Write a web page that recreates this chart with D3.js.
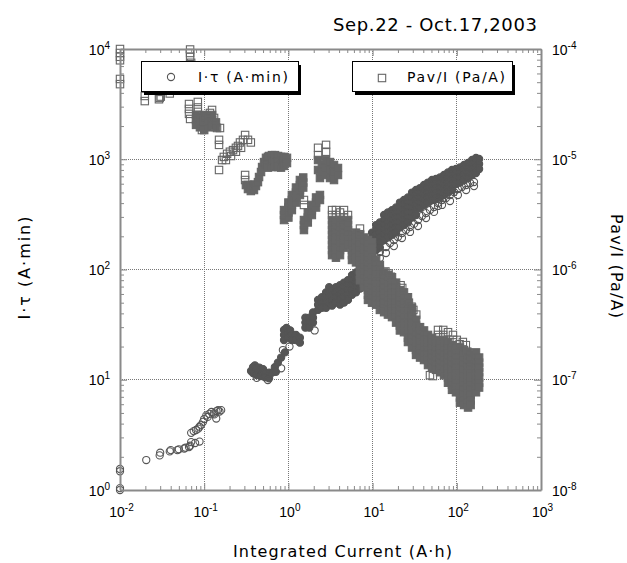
<!DOCTYPE html>
<html><head><meta charset="utf-8">
<script src="https://cdn.jsdelivr.net/npm/d3@7"></script>
<style>
body{margin:0;background:#fff;}
svg{display:block;font-family:"DejaVu Sans",sans-serif;}
</style></head><body>
<svg id="chart" width="627" height="563"></svg>
<script>
// ---------- axis ticks ----------
const xDecades = [1e-2, 1e-1, 1e0, 1e1, 1e2, 1e3];
const xTickExp = ["-2", "-1", "0", "1", "2", "3"];
const leftDecades = [1, 10, 100, 1000, 10000];
const leftTickExp = ["0", "1", "2", "3", "4"];
const rightDecades = [1e-8, 1e-7, 1e-6, 1e-5, 1e-4];
const rightTickExp = ["-8", "-7", "-6", "-5", "-4"];

// ---------- I·τ (A·min) vs integrated current (A·h) ----------
// isolated readings [current, I·tau]
const itauPoints = [
  [0.01,1.0],[0.01,1.04],[0.01,1.48],[0.01,1.55],[0.0205,1.87],[0.0296,2.06],[0.03,2.18],
  [0.039,2.24],[0.04,2.3],[0.048,2.3],[0.05,2.34],[0.058,2.38],[0.06,2.42],[0.066,2.45],[0.068,2.52],
  [0.07,2.72],[0.078,2.67],[0.088,2.75],[0.07,3.3],[0.075,3.42],[0.08,3.5],[0.085,3.6],[0.088,3.75],
  [0.092,3.9],[0.097,4.15],[0.1,4.4],[0.106,4.75],[0.11,4.6],[0.115,4.9],[0.122,5.1],[0.13,4.95],
  [0.132,4.85],[0.139,4.45],[0.14,5.2],[0.146,5.3],[0.152,5.15],[0.159,5.3],
  [0.42,10.4],[0.57,9.95],[0.82,12.7],[0.86,18.6],[1.03,20],[2.05,28],
  [12.2,144],[12.2,127],[14.4,160],[14.4,141],[16.1,174],[17.9,185],[17.9,163],[20,197],[22.3,214],
  [22.3,193],[24.9,228],[27.8,243],[27.8,219],[31,259],[34.6,281],[34.6,248],[38.6,305],[43.1,325],
  [43.1,293],[48,346],[53.6,369],[53.6,333],[59.8,401],[59.8,377],[66.7,427],[66.7,385],[74.4,445],
  [83,474],[83,418],[92.6,505],[103,537],[103,474],[115,560],[129,584],[129,526],[144,609],[160,622],[160,571]
];
// crowded stretches: [current, I·tau readings at that current...]
const itauColumns = [
  [0.36,12],[0.38,13,11.5],[0.4,13.5],[0.42,12.7,11],[0.45,12.9],[0.47,12.3,10.8],[0.5,12.5],
  [0.53,11.6,10.5],[0.59,11.6,10.3],
  [0.64,11.6],[0.69,13],[0.71,11.8],[0.75,14.3],[0.82,15.9],[0.91,17.7],
  [0.887,28.3,25.5,22.9],[0.95,29.5],[1.0,26.8,24.1],[1.05,28],[1.1,25.5,22.9],[1.23,25.5,22.9],[1.37,24.1,21.7],
  [1.59,36.6,33,29.7],[1.77,36.6,33,29.7],[1.96,40.8,36.6,33],
  [2.25,53,48,43],[2.5,56,50,45],[2.8,62,56,50,45],[3.05,69,62,56,50],
  [3.3,64,57.5,52,47],[3.67,69,62,56,50],[4.1,72,65,59,53,48],[4.57,76,69,62,56,50],
  [5.1,80,72,65,59,53],[5.69,89,80,72,65,59],[6.35,94,85,76,69,62],[7.08,99,89,80,72,67],
  [7.9,110,99,89,80,72],[8.81,128,116,104,94,85],
  [9.84,216,195,176,158,143,128,116],[11,253,228,206,185,167,150],[12.2,267,240,216,195,176,158],
  [13.7,312,281,253,228,206,185],[15.2,329,296,267,240,216,195],[17,346,312,281,253,228,206],
  [19,365,329,296,267,240,216],[21.1,405,365,329,296,267,240],[23.6,427,385,346,312,281,253],
  [26.3,450,405,365,329,296,267],[29.4,499,450,405,365,329,296],[32.8,526,474,427,385,346,312],
  [36.6,548,494,445,401,361],[40.8,584,526,474,427,385],[45.5,615,554,499,450,405],
  [50.8,648,584,526,474,427],[56.6,662,596,537,484,436],[63.2,683,615,554,499,450],
  [70.5,720,648,584,526,474],[78.6,758,683,615,554,499],[87.7,799,720,648,584,526],
  [97.8,816,735,662,596],[109,842,758,683,615],[122,887,799,720,648],[136,925,833,750,676],
  [152,984,887,799,720],[169,1026,925,833,750],[184,1005,906,816]
];

// ---------- Pav/I (Pa/A) vs integrated current (A·h) ----------
const pavPoints = [
  [0.01,1.0e-4],[0.01,9.2e-5],[0.01,8.5e-5],[0.01,7.9e-5],[0.01,5.35e-5],[0.01,4.8e-5],
  [0.0197,3.75e-5],[0.0197,3.37e-5],[0.029,3.5e-5],[0.0296,3.6e-5],[0.0305,3.7e-5],[0.039,3.95e-5],
  [0.068,9.9e-5],[0.068,9.2e-5],[0.068,8.5e-5],[0.07,7.5e-5],
  [0.066,3.17e-5],[0.066,2.86e-5],[0.066,2.58e-5],[0.068,2.32e-5],[0.084,3.31e-5],[0.084,2.95e-5],
  [0.084,2.69e-5],[0.105,2.47e-5],[0.117,2.63e-5],[0.124,2.8e-5],[0.131,2.37e-5],[0.142,1.92e-5],
  [0.154,1.92e-5],[0.094,1.84e-5],
  [0.15,1.5e-5],[0.15,1.35e-5],[0.15,7.99e-6],[0.163,9.84e-6],[0.171,1.05e-5],[0.187,1.12e-5],
  [0.202,1.17e-5],[0.22,1.21e-5],[0.238,1.27e-5],[0.252,1.32e-5],[0.266,1.42e-5],[0.289,1.5e-5],
  [0.306,1.66e-5],[0.331,1.5e-5],[0.358,1.42e-5],[0.181,9.84e-6],[0.208,1.07e-5],[0.238,1.17e-5],[0.274,1.27e-5],
  [0.306,7.2e-6],[0.306,6.48e-6],
  [1.53,3.85e-6],[1.53,4.27e-6],
  [2.25,1.27e-5],[2.25,1.09e-5],[2.8,1.35e-5],[2.8,1.17e-5],
  [3.3,3.46e-6],[3.3,3.12e-6],[3.67,3.46e-6],[3.67,3.12e-6],[4.1,3.29e-6],[4.57,3.46e-6],[4.57,2.96e-6],[5.1,3.12e-6],
  [7.08,2.35e-6],[7.08,2.09e-6],
  [14.2,9.6e-7],[15.5,9.2e-7],[16.5,8.6e-7],[21.5,7.2e-7],[22.5,6.8e-7],[27,5.0e-7],[29,4.6e-7],
  [30.5,4.3e-7],[33,3.9e-7],[59.8,2.83e-7],[59.8,2.55e-7],[69,2.83e-7],[69,2.55e-7],[78.6,2.7e-7],
  [90,2.55e-7],[90,2.3e-7],[100,2.3e-7],[108,2.1e-7],[118,2.2e-7],[128,2.06e-7],[133,1.8e-7],
  [136,1.55e-7],[136,1.35e-7],[48,1.1e-7],[52,1.08e-7]
];
const pavColumns = [
  [0.08,2.52e-5,2.27e-5,2.05e-5],[0.089,2.4e-5,2.16e-5,1.95e-5],[0.1,2.52e-5,2.27e-5,2.05e-5,1.84e-5],
  [0.111,2.4e-5,2.16e-5,1.95e-5],[0.124,2.52e-5,2.27e-5,2.05e-5],[0.138,2.16e-5,1.95e-5],
  [0.313,5.84e-6],[0.331,5.37e-6,5.84e-6],[0.358,5.15e-6,5.72e-6],[0.39,5.26e-6,5.9e-6],[0.412,5.72e-6],
  [0.435,6.2e-6],[0.448,6.9e-6],[0.473,7.66e-6],[0.487,8.5e-6],[0.513,9.43e-6],[0.542,1.03e-5,9.0e-6],
  [0.572,9.43e-6,1.05e-5,8.4e-6],[0.589,1.07e-5],[0.638,1.09e-5,9.6e-6,8.5e-6],[0.656,9.64e-6],
  [0.694,1.09e-5,9.5e-6,8.6e-6],[0.753,1.07e-5,9.43e-6,8.5e-6],[0.817,1.05e-5,9.3e-6,8.4e-6],
  [0.86,9.64e-6],[0.887,1.05e-5,8.7e-6],[0.962,1.03e-5,9.24e-6],
  [0.887,2.81e-6,3.12e-6,3.46e-6],[1.0,2.96e-6,3.29e-6,3.65e-6,4.05e-6],[1.1,3.46e-6,3.85e-6,4.27e-6,4.74e-6],
  [1.23,4.05e-6,4.5e-6,4.99e-6,5.54e-6],[1.37,4.74e-6,5.26e-6,5.84e-6,6.48e-6],[1.5,5.54e-6,6.15e-6,6.83e-6],
  [1.53,2.28e-6,2.53e-6,2.81e-6],[1.7,2.67e-6,2.96e-6,3.29e-6],[1.9,3.12e-6,3.46e-6,3.85e-6],
  [2.13,3.65e-6,4.05e-6,4.5e-6],[2.37,4.27e-6,4.74e-6],
  [2.25,9.84e-6,7.99e-6],[2.37,6.76e-6],[2.5,8.87e-6,7.66e-6],[2.8,9.84e-6,8.33e-6,7.2e-6],
  [3.12,9.43e-6,7.99e-6,6.76e-6],[3.48,8.87e-6,7.66e-6,6.48e-6],[3.88,8.33e-6,7.2e-6],
  [3.3,2.81e-6,2.53e-6,2.28e-6,2.06e-6,1.85e-6,1.67e-6,1.5e-6,1.35e-6],
  [3.67,2.67e-6,2.4e-6,2.16e-6,1.95e-6,1.76e-6,1.58e-6,1.43e-6,1.28e-6],
  [4.1,2.81e-6,2.53e-6,2.28e-6,2.06e-6,1.85e-6,1.67e-6,1.5e-6,1.35e-6],
  [4.57,2.67e-6,2.4e-6,2.16e-6,1.95e-6,1.76e-6,1.58e-6],
  [5.1,2.81e-6,2.53e-6,2.28e-6,2.06e-6,1.85e-6,1.67e-6],
  [5.69,2.06e-6,1.85e-6,1.67e-6,1.5e-6,1.35e-6,1.22e-6],
  [6.35,2.16e-6,1.95e-6,1.76e-6,1.58e-6,1.43e-6,1.28e-6,1.16e-6],
  [7.08,2.06e-6,1.85e-6,1.67e-6,1.5e-6,1.35e-6,1.22e-6,1.1e-6,9.9e-7,8.9e-7,8.0e-7],
  [7.9,1.95e-6,1.76e-6,1.58e-6,1.43e-6,1.28e-6,1.16e-6,1.04e-6,9.4e-7,8.5e-7,7.6e-7,6.9e-7],
  [8.81,1.85e-6,1.67e-6,1.5e-6,1.35e-6,1.22e-6,1.1e-6,9.9e-7,8.9e-7,8.0e-7,7.2e-7,6.5e-7,5.9e-7,5.3e-7],
  [9.84,1.76e-6,1.58e-6,1.43e-6,1.28e-6,1.16e-6,1.04e-6,9.4e-7,8.5e-7,7.6e-7,6.9e-7,6.2e-7,5.6e-7,5.0e-7],
  [11,1.22e-6,1.1e-6,9.9e-7,8.9e-7,8.0e-7,7.2e-7,6.5e-7,5.9e-7,5.3e-7,4.8e-7],
  [12.2,1.1e-6,9.9e-7,8.9e-7,8.0e-7,7.2e-7,6.5e-7,5.9e-7,5.3e-7,4.8e-7,4.3e-7],
  [13.7,9.4e-7,8.5e-7,7.6e-7,6.9e-7,6.2e-7,5.6e-7,5.0e-7,4.5e-7,4.1e-7],
  [15.2,8.9e-7,8.0e-7,7.2e-7,6.5e-7,5.9e-7,5.3e-7,4.8e-7,4.3e-7,3.9e-7],
  [17,8.5e-7,7.6e-7,6.9e-7,6.2e-7,5.6e-7,5.0e-7,4.5e-7,4.1e-7,3.7e-7],
  [19,7.6e-7,6.9e-7,6.2e-7,5.6e-7,5.0e-7,4.5e-7,4.1e-7,3.7e-7,3.3e-7],
  [21.1,6.5e-7,5.9e-7,5.3e-7,4.8e-7,4.3e-7,3.9e-7,3.5e-7,3.1e-7,2.8e-7],
  [23.6,6.2e-7,5.6e-7,5.0e-7,4.5e-7,4.1e-7,3.7e-7,3.3e-7,3.0e-7,2.7e-7],
  [26.3,5.6e-7,5.0e-7,4.5e-7,4.1e-7,3.7e-7,3.3e-7,3.0e-7,2.7e-7,2.4e-7,2.2e-7],
  [29.4,4.5e-7,4.1e-7,3.7e-7,3.3e-7,3.0e-7,2.7e-7,2.4e-7,2.2e-7,1.96e-7],
  [32.8,3.5e-7,3.1e-7,2.8e-7,2.55e-7,2.3e-7,2.06e-7,1.86e-7,1.68e-7],
  [36.6,3.0e-7,2.7e-7,2.4e-7,2.2e-7,1.96e-7,1.77e-7,1.59e-7],
  [40.8,2.8e-7,2.55e-7,2.3e-7,2.06e-7,1.86e-7,1.68e-7,1.51e-7],
  [45.5,2.55e-7,2.3e-7,2.06e-7,1.86e-7,1.68e-7,1.51e-7,1.36e-7],
  [50.8,2.4e-7,2.2e-7,1.96e-7,1.77e-7,1.59e-7,1.43e-7,1.29e-7],
  [56.6,2.3e-7,2.06e-7,1.86e-7,1.68e-7,1.51e-7,1.36e-7,1.23e-7],
  [63.2,2.2e-7,1.96e-7,1.77e-7,1.59e-7,1.43e-7,1.29e-7,1.17e-7],
  [70.5,2.3e-7,2.06e-7,1.86e-7,1.68e-7,1.51e-7,1.36e-7,1.23e-7,1.1e-7],
  [78.6,2.2e-7,1.96e-7,1.77e-7,1.59e-7,1.43e-7,1.29e-7,1.17e-7,1.05e-7,9.4e-8],
  [87.7,2.06e-7,1.86e-7,1.68e-7,1.51e-7,1.36e-7,1.23e-7,1.1e-7,9.9e-8,9.0e-8,8.1e-8],
  [97.8,1.96e-7,1.77e-7,1.59e-7,1.43e-7,1.29e-7,1.17e-7,1.05e-7,9.4e-8,8.5e-8,7.7e-8],
  [109,1.96e-7,1.77e-7,1.59e-7,1.43e-7,1.29e-7,1.17e-7,1.05e-7,9.4e-8,8.5e-8,7.7e-8,6.9e-8,6.2e-8],
  [122,1.86e-7,1.68e-7,1.51e-7,1.36e-7,1.23e-7,1.1e-7,9.9e-8,9.0e-8,8.1e-8,7.3e-8,6.5e-8,5.9e-8],
  [136,1.77e-7,1.59e-7,1.43e-7,1.29e-7,1.17e-7,1.05e-7,9.4e-8,8.5e-8,7.7e-8,6.9e-8,6.2e-8,5.6e-8],
  [146,1.68e-7,1.51e-7,1.36e-7,1.23e-7,1.1e-7,9.9e-8,9.0e-8,8.1e-8,7.3e-8,6.5e-8,5.9e-8],
  [169,1.77e-7,1.59e-7,1.43e-7,1.29e-7,1.17e-7,1.05e-7,9.4e-8,8.5e-8,7.7e-8],
  [184,1.59e-7,1.43e-7,1.29e-7,1.17e-7,1.05e-7,9.4e-8,8.5e-8]
];

const titleText = "Sep.22 - Oct.17,2003";
const xTitle = "Integrated Current (A·h)";
const leftTitle = "I·τ (A·min)";
const rightTitle = "Pav/I (Pa/A)";

// ---------- layout ----------
const svg = d3.select("#chart");
const plot = {left: 120, right: 541, top: 49, bottom: 490};
const axisGrey = "#8a8a8a";
const circleGrey = "#555";
const squareGrey = "#666";

const x = d3.scaleLog().domain([1e-2, 1e3]).range([plot.left, plot.right]);
const yL = d3.scaleLog().domain([1, 1e4]).range([plot.bottom, plot.top]);
const yR = d3.scaleLog().domain([1e-8, 1e-4]).range([plot.bottom, plot.top]);

const minorsOf = decades => decades.slice(0, -1).flatMap(d => d3.range(2, 10).map(k => k * d));
const expand = cols => cols.flatMap(([cx, ...vals]) => vals.map(v => [cx, v]));

// dotted decade grid
const grid = svg.append("g").attr("stroke", "#777").attr("stroke-dasharray", "1,1")
  .attr("shape-rendering", "crispEdges");
grid.selectAll("line.gx").data(xDecades.slice(1, -1)).join("line")
  .attr("x1", d => x(d)).attr("x2", d => x(d)).attr("y1", plot.top).attr("y2", plot.bottom);
grid.selectAll("line.gy").data(leftDecades.slice(1, -1)).join("line")
  .attr("y1", d => yL(d)).attr("y2", d => yL(d)).attr("x1", plot.left).attr("x2", plot.right);

// I·τ markers: hollow circles; where readings pile up they merge into solid grey
const r = 3.6;
const gCirc = svg.append("g").attr("stroke", circleGrey).attr("stroke-width", 1.1);
gCirc.selectAll("circle.dense").data(expand(itauColumns)).join("circle")
  .attr("cx", d => x(d[0])).attr("cy", d => yL(d[1])).attr("r", r).attr("fill", circleGrey);
gCirc.selectAll("circle.single").data(itauPoints).join("circle")
  .attr("cx", d => x(d[0])).attr("cy", d => yL(d[1])).attr("r", r).attr("fill", "none");

// Pav/I markers: hollow squares, merged likewise
const sq = 7.4;
const gSq = svg.append("g").attr("stroke", squareGrey).attr("stroke-width", 1.1);
gSq.selectAll("rect.dense").data(expand(pavColumns)).join("rect")
  .attr("x", d => x(d[0]) - sq / 2).attr("y", d => yR(d[1]) - sq / 2)
  .attr("width", sq).attr("height", sq).attr("fill", squareGrey);
gSq.selectAll("rect.single").data(pavPoints).join("rect")
  .attr("x", d => x(d[0]) - sq / 2).attr("y", d => yR(d[1]) - sq / 2)
  .attr("width", sq).attr("height", sq).attr("fill", "none");

// axes: minor + major ticks pointing into the plot
function axisPair(gen, scale, decades, transform) {
  const gMinor = svg.append("g").attr("transform", transform)
    .call(gen(scale).tickValues(minorsOf(decades)).tickSizeInner(-4).tickSizeOuter(0).tickFormat(""));
  gMinor.select(".domain").remove();
  const gMajor = svg.append("g").attr("transform", transform)
    .call(gen(scale).tickValues(decades).tickSizeInner(-7).tickSizeOuter(0).tickFormat(""));
  [gMinor, gMajor].forEach(g => g.selectAll(".tick line").attr("stroke", axisGrey));
  gMajor.select(".domain").attr("stroke", axisGrey).attr("stroke-width", 2);
  gMajor.selectAll(".tick text").remove();
  return gMajor;
}
function powerLabel(sel, exps, decades, opts) {
  sel.selectAll(".tick").append("text")
    .attr("x", opts.x).attr("y", opts.y).attr("text-anchor", opts.anchor)
    .attr("fill", "#000").attr("font-size", 14)
    .each(function(d) {
      const t = d3.select(this);
      t.append("tspan").text("10");
      t.append("tspan").attr("dy", -6).attr("font-size", 10).text(exps[decades.indexOf(d)]);
    });
}

const gBottom = axisPair(d3.axisBottom, x, xDecades, `translate(0,${plot.bottom})`);
powerLabel(gBottom, xTickExp, xDecades, {x: 1, y: 27, anchor: "middle"});
axisPair(d3.axisTop, x, xDecades, `translate(0,${plot.top})`);
const gLeft = axisPair(d3.axisLeft, yL, leftDecades, `translate(${plot.left},0)`);
powerLabel(gLeft, leftTickExp, leftDecades, {x: -10, y: 5, anchor: "end"});
const gRight = axisPair(d3.axisRight, yR, rightDecades, `translate(${plot.right},0)`);
powerLabel(gRight, rightTickExp, rightDecades, {x: 11, y: 5, anchor: "start"});

// legends with drop shadows
function legendBox(bx, by, w, h, drawSymbol, label, tx, tlen) {
  const g = svg.append("g");
  g.append("rect").attr("x", bx + 3).attr("y", by + 4).attr("width", w).attr("height", h).attr("fill", "#000");
  g.append("rect").attr("x", bx).attr("y", by).attr("width", w).attr("height", h)
    .attr("fill", "#fff").attr("stroke", "#000").attr("stroke-width", 1).attr("shape-rendering", "crispEdges");
  drawSymbol(g);
  g.append("text").attr("x", tx).attr("y", by + 21).attr("font-size", 14).attr("fill", "#000")
    .attr("textLength", tlen).attr("lengthAdjust", "spacing").text(label);
}
legendBox(141, 61, 157, 30,
  g => g.append("circle").attr("cx", 171).attr("cy", 77).attr("r", r)
        .attr("fill", "none").attr("stroke", circleGrey).attr("stroke-width", 1.1),
  leftTitle, 198, 90);
legendBox(352, 61, 160, 30,
  g => g.append("rect").attr("x", 382 - sq / 2).attr("y", 78 - sq / 2).attr("width", sq).attr("height", sq)
        .attr("fill", "none").attr("stroke", squareGrey).attr("stroke-width", 1.1),
  rightTitle, 407, 98);

// titles
svg.append("text").attr("x", 333).attr("y", 31).attr("font-size", 18).attr("fill", "#000")
  .attr("textLength", 204).attr("lengthAdjust", "spacing").text(titleText);
svg.append("text").attr("x", 342.5).attr("y", 557).attr("text-anchor", "middle")
  .attr("font-size", 16).attr("fill", "#000")
  .attr("textLength", 219).attr("lengthAdjust", "spacing").text(xTitle);
svg.append("text").attr("transform", "translate(30,268) rotate(-90)").attr("text-anchor", "middle")
  .attr("font-size", 16).attr("fill", "#000")
  .attr("textLength", 103).attr("lengthAdjust", "spacing").text(leftTitle);
svg.append("text").attr("transform", "translate(611,266) rotate(90)").attr("text-anchor", "middle")
  .attr("font-size", 16).attr("fill", "#000")
  .attr("textLength", 104).attr("lengthAdjust", "spacing").text(rightTitle);
</script>
</body></html>
